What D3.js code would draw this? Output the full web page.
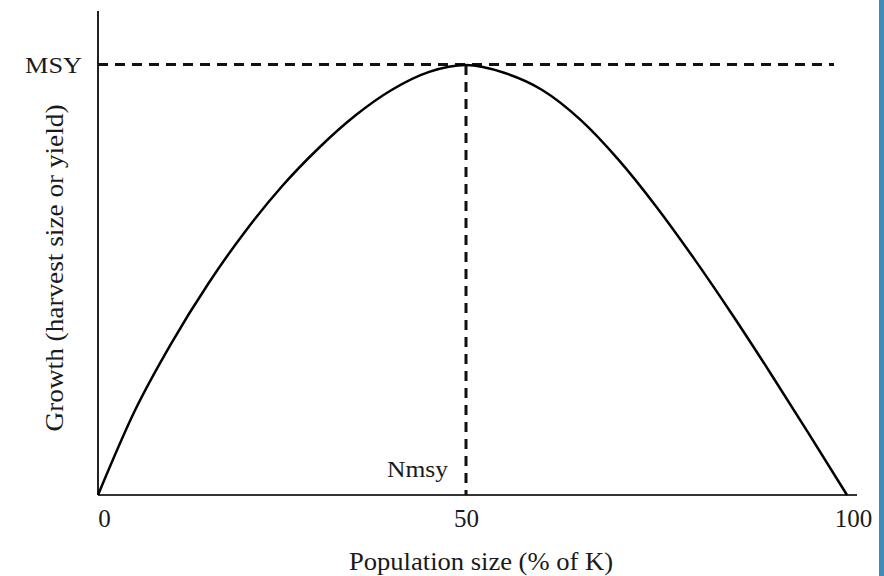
<!DOCTYPE html>
<html>
<head>
<meta charset="utf-8">
<script src="https://cdn.jsdelivr.net/npm/d3@7"></script>
<style>
  body { margin: 0; background: #fff; }
  text { font-family: "Liberation Serif", "Times New Roman", serif; fill: #1a1a1a; }
</style>
</head>
<body>
<div id="chart"></div>
<script>
// population size as % of carrying capacity K
var populationPct = [0, 5, 10, 15, 20, 25, 30, 35, 40, 45, 50, 55, 60, 65, 70, 75, 80, 85, 90, 95, 100];
// growth (harvest or yield), 100 = MSY
var growthValues = [0, 19.6, 35.4, 49.2, 61.3, 71.8, 80.7, 88.3, 94.3, 98.4, 100, 98.2, 94.2, 87.3, 78.0, 67.0, 54.8, 41.8, 28.2, 14.2, 0];
var xTickValues = [0, 50, 100];
var msyValue = 100;
var nmsyValue = 50;

var width = 884, height = 576;

var svg = d3.select("#chart")
  .append("svg")
  .attr("width", width)
  .attr("height", height);

/** x scale: the printed figure is a little stretched on the right half */
var x = d3.scaleLinear()
  .domain([0, 50, 100])
  .range([98, 466, 847]);

var y = d3.scaleLinear()
  .domain([0, 100])
  .range([495, 65]);

/** right edge blue strip */
svg.append("rect")
  .attr("x", 879)
  .attr("y", 0)
  .attr("width", width - 879)
  .attr("height", height)
  .style("fill", "#3f8bb9");

/** axes lines */
svg.append("line")
  .attr("x1", x(0)).attr("x2", x(0))
  .attr("y1", 11).attr("y2", y(0))
  .style("stroke", "#222")
  .style("stroke-width", 2);

svg.append("line")
  .attr("x1", x(0)).attr("x2", 857)
  .attr("y1", y(0)).attr("y2", y(0))
  .style("stroke", "#333")
  .style("stroke-width", 2);

/** tick labels through d3 axis */
var xAxis = d3.axisBottom(x)
  .tickValues(xTickValues)
  .tickSize(0)
  .tickPadding(0);

var gx = svg.append("g")
  .attr("transform", "translate(0," + y(0) + ")")
  .call(xAxis);
gx.select(".domain").remove();
gx.selectAll("text")
  .attr("y", 32)
  .attr("dy", 0)
  .attr("dx", function(d) { return d === 50 ? 0 : 6; })
  .style("font-family", "'Liberation Serif', serif")
  .style("font-size", "25px")
  .style("fill", "#1a1a1a");

/** MSY and Nmsy reference lines */
svg.append("line")
  .attr("x1", x(0)).attr("x2", 834)
  .attr("y1", y(msyValue) - 0.5).attr("y2", y(msyValue) - 0.5)
  .style("stroke", "#111")
  .style("stroke-width", 3)
  .style("stroke-dasharray", "10,7");

svg.append("line")
  .attr("x1", x(nmsyValue)).attr("x2", x(nmsyValue))
  .attr("y1", y(msyValue)).attr("y2", y(0))
  .style("stroke", "#111")
  .style("stroke-width", 3)
  .style("stroke-dasharray", "10,7");

/** growth curve */
var line = d3.line()
  .x(function(d, i) { return x(populationPct[i]); })
  .y(function(d) { return y(d); })
  .curve(d3.curveMonotoneX);

svg.append("path")
  .datum(growthValues)
  .attr("d", line)
  .style("fill", "none")
  .style("stroke", "#000")
  .style("stroke-width", 2.5);

/** labels */
svg.append("text")
  .attr("x", 25).attr("y", 73)
  .attr("textLength", 57)
  .attr("lengthAdjust", "spacingAndGlyphs")
  .style("font-size", "23px")
  .text("MSY");

svg.append("text")
  .attr("x", 387).attr("y", 477)
  .attr("textLength", 61)
  .attr("lengthAdjust", "spacingAndGlyphs")
  .style("font-size", "23px")
  .text("Nmsy");

svg.append("text")
  .attr("x", 481).attr("y", 570)
  .attr("text-anchor", "middle")
  .attr("textLength", 264)
  .attr("lengthAdjust", "spacingAndGlyphs")
  .style("font-size", "25px")
  .text("Population size (% of K)");

svg.append("text")
  .attr("transform", "translate(63,268) rotate(-90)")
  .attr("text-anchor", "middle")
  .attr("textLength", 327)
  .attr("lengthAdjust", "spacingAndGlyphs")
  .style("font-size", "25px")
  .text("Growth (harvest size or yield)");
</script>
</body>
</html>
